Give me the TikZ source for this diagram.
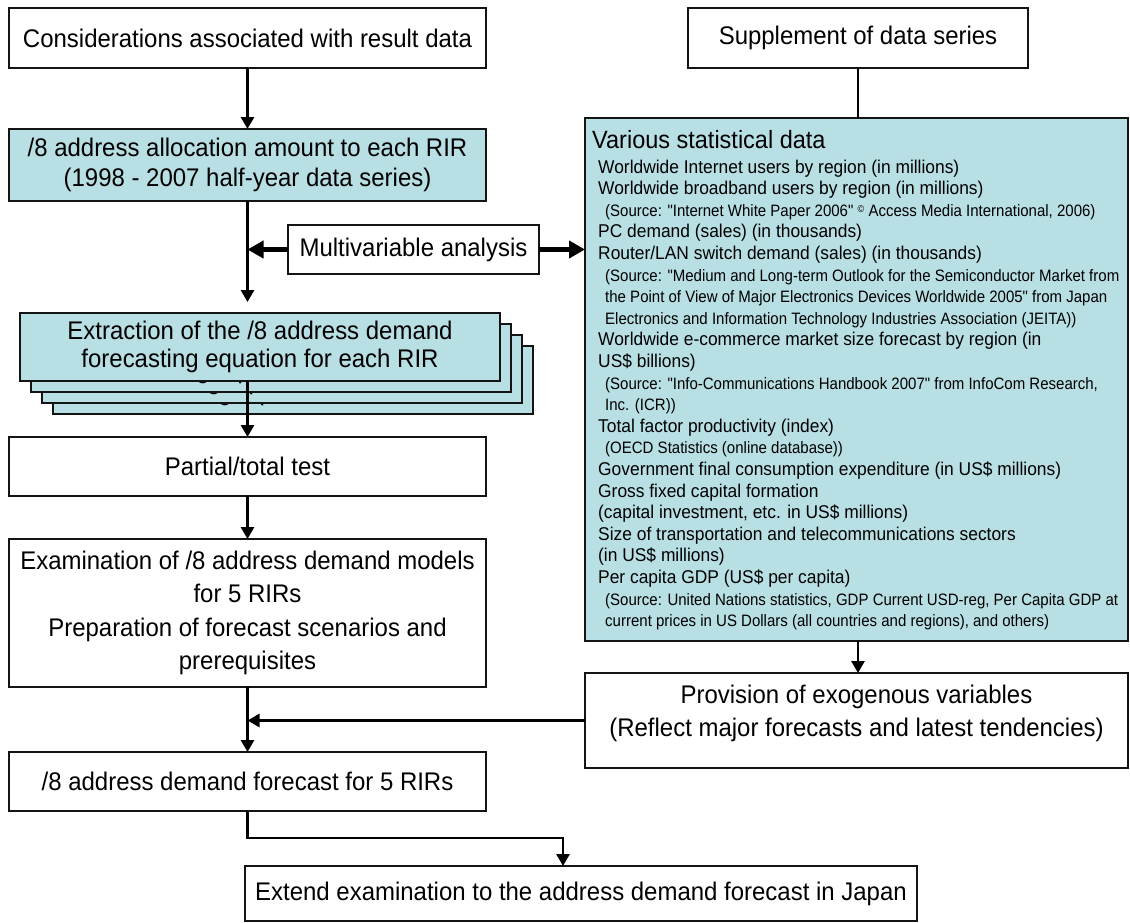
\documentclass[tikz,border=0pt]{standalone}
\usepackage{fontspec}
\setmainfont{Liberation Sans}[FakeStretch=0.94]
\newfontfamily\srcfamily{Liberation Sans}[FakeStretch=0.91]
\usetikzlibrary{arrows.meta,calc}
\definecolor{panelteal}{RGB}{184,223,227}
\definecolor{boxedge}{RGB}{20,20,20}
% small raised copyright sign used in the source notes
\newcommand\copymark{\raisebox{3.5pt}{\fontsize{10}{10}\selectfont ©}}
% one item line and one source line of the statistics panel
\newcommand\statitem[1]{\hspace*{6pt}#1}
\newcommand\statsrc[1]{\hspace*{13pt}{\srcfamily\fontsize{16.5}{21.6}\selectfont #1}}

\begin{document}
\begin{tikzpicture}[x=1pt,y=-1pt,
  whitebox/.style={draw=boxedge, line width=1.5pt, fill=white, inner sep=0pt,
    outer sep=0pt, align=center, font=\fontsize{25.5}{29}\selectfont},
  tealbox/.style={whitebox, fill=panelteal},
  conn/.style={line width=2.8pt, draw=black, -{Triangle[width=13pt,length=12pt]}},
  plainline/.style={line width=2.8pt, draw=black},
  thickarrow/.style={line width=5pt, draw=black, -{Triangle[width=17pt,length=16pt]}},
]
\useasboundingbox (0,0) rectangle (1130,922);
\fill[white] (0,0) rectangle (1130,922);

% left column
\node[whitebox, minimum width=477pt, minimum height=60pt] (cons) at (247.5,38)
  {Considerations associated with result data};
\node[tealbox, minimum width=477pt, minimum height=72pt,
  font=\fontsize{25.5}{30}\selectfont] (alloc) at (247.5,165)
  {/8 address allocation amount to each RIR\\(1998 - 2007 half-year data series)};
\node[whitebox, minimum width=251pt, minimum height=49pt] (mult) at (413.5,249.5)
  {Multivariable analysis};

% stacked equation sheets, back to front
\foreach \k/\nm in {3/stackC,2/stackB,1/stackA}{
  \node[tealbox, minimum width=480pt, minimum height=68pt,
    font=\fontsize{25.5}{28}\selectfont] (\nm) at ({260+11*\k},{347+11*\k})
    {Extraction of the /8 address demand\\forecasting equation for each RIR};
}
\node[tealbox, minimum width=480pt, minimum height=68pt,
  font=\fontsize{25.5}{28}\selectfont] (stack) at (260,347)
  {Extraction of the /8 address demand\\forecasting equation for each RIR};

\node[whitebox, minimum width=477pt, minimum height=59pt] (part) at (247.5,466.5)
  {Partial/total test};
\node[whitebox, minimum width=477pt, minimum height=148pt,
  font=\fontsize{25.5}{33.5}\selectfont] (exam) at (247.5,613)
  {Examination of /8 address demand models\\for 5 RIRs\\Preparation of forecast scenarios and\\prerequisites};
\node[whitebox, minimum width=477pt, minimum height=59pt] (fc) at (247.5,781.5)
  {/8 address demand forecast for 5 RIRs};
\node[whitebox, minimum width=672pt, minimum height=55pt] (jp) at (581,893.5)
  {Extend examination to the address demand forecast in Japan};

% right column
\node[whitebox, minimum width=340pt, minimum height=60pt] (sup) at (858,38)
  {Supplement of data series};
\node[tealbox, minimum width=543pt, minimum height=523pt] (stat) at (856.5,379.5) {};
\node[anchor=base west, inner sep=0pt] (statText) at (592,148.5) {%
\begin{minipage}[t]{535pt}
\fontsize{18.5}{21.6}\selectfont\raggedright
{\fontsize{25}{25}\selectfont Various statistical data}\\[3pt]
\statitem{Worldwide Internet users by region (in millions)}\\
\statitem{Worldwide broadband users by region (in millions)}\\
\statsrc{(Source: "Internet White Paper 2006" \copymark\ Access Media International, 2006)}\\
\statitem{PC demand (sales) (in thousands)}\\
\statitem{Router/LAN switch demand (sales) (in thousands)}\\
\statsrc{(Source: "Medium and Long-term Outlook for the Semiconductor Market from}\\
\statsrc{the Point of View of Major Electronics Devices Worldwide 2005" from Japan}\\
\statsrc{Electronics and Information Technology Industries Association (JEITA))}\\
\statitem{Worldwide e-commerce market size forecast by region (in}\\
\statitem{US\$ billions)}\\
\statsrc{(Source: "Info-Communications Handbook 2007" from InfoCom Research,}\\
\statsrc{Inc. (ICR))}\\
\statitem{Total factor productivity (index)}\\
\statsrc{(OECD Statistics (online database))}\\
\statitem{Government final consumption expenditure (in US\$ millions)}\\
\statitem{Gross fixed capital formation}\\
\statitem{(capital investment, etc. in US\$ millions)}\\
\statitem{Size of transportation and telecommunications sectors}\\
\statitem{(in US\$ millions)}\\
\statitem{Per capita GDP (US\$ per capita)}\\
\statsrc{(Source: United Nations statistics, GDP Current USD-reg, Per Capita GDP at}\\
\statsrc{current prices in US Dollars (all countries and regions), and others)}
\end{minipage}};
\node[whitebox, minimum width=543pt, minimum height=95pt] (prov) at (856.5,720.5) {};
\node[align=center, inner sep=0pt, font=\fontsize{25.5}{33}\selectfont] (provText) at (856.5,713)
  {Provision of exogenous variables\\(Reflect major forecasts and latest tendencies)};

% connectors
\draw[conn] (cons.south) -- (alloc.north);
\draw[conn, shorten >=11pt] (alloc.south) -- (alloc.south |- stack.north);
\draw[thickarrow] (mult.west) -- (alloc.south |- mult.west);
\draw[thickarrow] (mult.east) -- (stat.west |- mult.east);
\draw[conn] (part.north |- stack.south) -- (part.north);
\draw[conn] (part.south) -- (exam.north);
\draw[conn] (exam.south) -- (fc.north);
\draw[conn] (prov.west) -- (exam.south |- prov.west);
\draw[plainline] (sup.south) -- (sup.south |- stat.north);
\draw[conn] (sup.south |- stat.south) -- (sup.south |- prov.north);
\coordinate (jpin) at ([xshift=318pt]jp.north west);
\draw[conn] (fc.south) -- ++(0,27) -| (jpin);
\end{tikzpicture}
\end{document}
